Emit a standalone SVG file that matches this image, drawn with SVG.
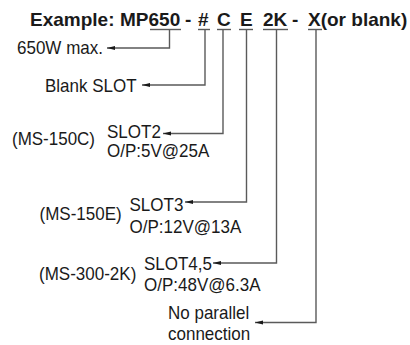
<svg xmlns="http://www.w3.org/2000/svg" width="410" height="345" viewBox="0 0 410 345">
<style>
.t{font-family:"Liberation Sans",Arial,sans-serif;font-size:18.5px;fill:#1a1a1a}
.h{font-family:"Liberation Sans",Arial,sans-serif;font-size:19px;font-weight:bold;fill:#1a1a1a}
.c{fill:none;stroke:#5a5a5a;stroke-width:1.4}
.u{stroke:#5a5a5a;stroke-width:1.4}
</style>
<defs>
<marker id="ah" viewBox="0 0 8 6" refX="8" refY="3" markerWidth="8" markerHeight="6" markerUnits="userSpaceOnUse" orient="auto">
<path d="M0,1 L8,3 L0,5 Z" fill="#1a1a1a"/>
</marker>
</defs>
<rect width="410" height="345" fill="#fff"/>
<g id="title">
<text class="h" y="26"><tspan x="30">Example:</tspan><tspan x="120">MP650</tspan><tspan x="185">-</tspan><tspan x="198">#</tspan><tspan x="217">C</tspan><tspan x="240">E</tspan><tspan x="263">2K</tspan><tspan x="292">-</tspan><tspan x="308">X(or blank)</tspan></text>
<line class="u" x1="150" y1="29.5" x2="181" y2="29.5"/>
<line class="u" x1="198" y1="29.5" x2="210" y2="29.5"/>
<line class="u" x1="217" y1="29.5" x2="231" y2="29.5"/>
<line class="u" x1="239" y1="29.5" x2="253" y2="29.5"/>
<line class="u" x1="263" y1="29.5" x2="288" y2="29.5"/>
<line class="u" x1="308" y1="29.5" x2="322" y2="29.5"/>
</g>
<g id="connectors">
<path class="c" d="M169.5 29.5 V48 H107" marker-end="url(#ah)"/>
<path class="c" d="M205 29.5 V85 H142" marker-end="url(#ah)"/>
<path class="c" d="M223 29.5 V133.5 H163" marker-end="url(#ah)"/>
<path class="c" d="M246.5 29.5 V202 H185" marker-end="url(#ah)"/>
<path class="c" d="M276.5 29.5 V263 H213" marker-end="url(#ah)"/>
<path class="c" d="M316 29.5 V322.5 H255" marker-end="url(#ah)"/>
</g>
<g id="max"><text class="t" x="17" y="54" textLength="86" lengthAdjust="spacingAndGlyphs">650W max.</text></g>
<g id="blank"><text class="t" x="45" y="92" textLength="91.6" lengthAdjust="spacingAndGlyphs">Blank SLOT</text></g>
<g id="slot2">
<text class="t" x="12" y="144.5" textLength="83" lengthAdjust="spacingAndGlyphs">(MS-150C)</text>
<text class="t" x="107" y="137.5" textLength="53.9" lengthAdjust="spacingAndGlyphs">SLOT2</text>
<text class="t" x="107" y="157" textLength="102.3" lengthAdjust="spacingAndGlyphs">O/P:5V@25A</text>
</g>
<g id="slot3">
<text class="t" x="39.5" y="219.5" textLength="82.2" lengthAdjust="spacingAndGlyphs">(MS-150E)</text>
<text class="t" x="129.5" y="211" textLength="53.9" lengthAdjust="spacingAndGlyphs">SLOT3</text>
<text class="t" x="129.5" y="233" textLength="111.8" lengthAdjust="spacingAndGlyphs">O/P:12V@13A</text>
</g>
<g id="slot45">
<text class="t" x="39" y="280" textLength="97.3" lengthAdjust="spacingAndGlyphs">(MS-300-2K)</text>
<text class="t" x="144" y="270" textLength="68" lengthAdjust="spacingAndGlyphs">SLOT4,5</text>
<text class="t" x="144" y="290.5" textLength="116.5" lengthAdjust="spacingAndGlyphs">O/P:48V@6.3A</text>
</g>
<g id="noparallel">
<text class="t" x="168" y="318.5" textLength="81.2" lengthAdjust="spacingAndGlyphs">No parallel</text>
<text class="t" x="168" y="340" textLength="82.2" lengthAdjust="spacingAndGlyphs">connection</text>
</g>
</svg>
